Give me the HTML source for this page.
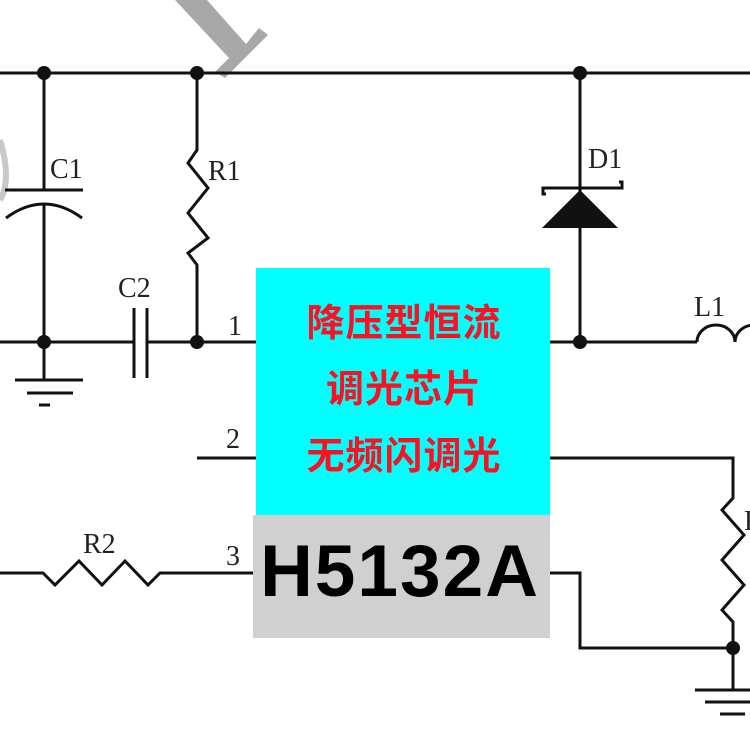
<!DOCTYPE html>
<html><head><meta charset="utf-8"><style>
html,body{margin:0;padding:0;background:#fff;width:750px;height:750px;overflow:hidden}
</style></head><body>
<svg width="750" height="750" viewBox="0 0 750 750" xmlns="http://www.w3.org/2000/svg">
<!-- watermark -->
<polygon points="175,0 207,0 246,44 259,28 268,35 225,78 215,72 229,58" fill="#a8a8a8"/>
<path d="M0,140 Q12,180 0,200" stroke="#c8c8c8" stroke-width="6" fill="none"/>
<g stroke="#111" stroke-width="3" fill="none">
<line x1="0" y1="73" x2="750" y2="73"/>
<line x1="44" y1="73" x2="44" y2="190"/>
<line x1="5" y1="190" x2="83" y2="190"/>
<path d="M6,218 Q44,190 82,218"/>
<line x1="44" y1="205" x2="44" y2="380"/>
<line x1="15" y1="380" x2="83" y2="380"/>
<line x1="27" y1="393" x2="73" y2="393"/>
<line x1="39" y1="405" x2="50" y2="405"/>
<line x1="0" y1="342" x2="134" y2="342"/>
<line x1="134" y1="308" x2="134" y2="378"/>
<line x1="147" y1="308" x2="147" y2="378"/>
<line x1="147" y1="342" x2="257" y2="342"/>
<polyline points="197,73 197,150 188,163 208,188 188,213 208,238 188,253 197,265 197,342"/>
<line x1="197" y1="458" x2="257" y2="458"/>
<polyline points="0,573 43,573 55,585 79,561 102,585 125,561 148,585 160,573 254,573"/>
<line x1="580" y1="73" x2="580" y2="342"/>
<polyline points="546,194 543,194 543,188 622,188 622,182 619,182"/>
<line x1="550" y1="342" x2="697" y2="342"/>
<path d="M697,342 A19,17 0 0 1 735,342 A19,17 0 0 1 773,342"/>
<polyline points="550,458 733,458 733,498 722,510 744,535 722,560 744,585 722,610 733,622 733,648"/>
<polyline points="550,573 580,573 580,648 733,648 733,690"/>
<line x1="695" y1="690" x2="750" y2="690"/>
<line x1="705" y1="702" x2="750" y2="702"/>
<line x1="720" y1="714" x2="745" y2="714"/>
</g>
<polygon points="542,228 618,228 580,190" fill="#111"/>
<g fill="#111">
<circle cx="44" cy="73" r="7"/><circle cx="197" cy="73" r="7"/><circle cx="580" cy="73" r="7"/>
<circle cx="44" cy="342" r="7"/><circle cx="197" cy="342" r="7"/><circle cx="580" cy="342" r="7"/>
<circle cx="733" cy="648" r="7"/>
</g>
<g font-family="Liberation Serif, serif" font-size="28" fill="#222">
<text x="50" y="178">C1</text>
<text x="208" y="180">R1</text>
<text x="118" y="297">C2</text>
<text x="228" y="335">1</text>
<text x="226" y="448">2</text>
<text x="226" y="565">3</text>
<text x="83" y="553">R2</text>
<text x="588" y="168">D1</text>
<text x="694" y="316">L1</text>
<text x="744" y="530">R</text>
</g>
<rect x="256" y="268" width="294" height="247" fill="#00ffff"/>
<rect x="253" y="515" width="297" height="123" fill="#d0d0d0"/>
<g font-family="Liberation Sans, 'Noto Sans CJK SC', sans-serif" font-weight="bold" font-size="38" letter-spacing="1" fill="#ff1020" text-anchor="middle">
<text x="404" y="336">降压型恒流</text>
<text x="404" y="402">调光芯片</text>
<text x="404" y="469">无频闪调光</text>
</g>
<text x="400" y="596" text-anchor="middle" font-family="Liberation Sans, sans-serif" font-weight="bold" font-size="73" letter-spacing="2" fill="#000">H5132A</text>
</svg>
</body></html>
